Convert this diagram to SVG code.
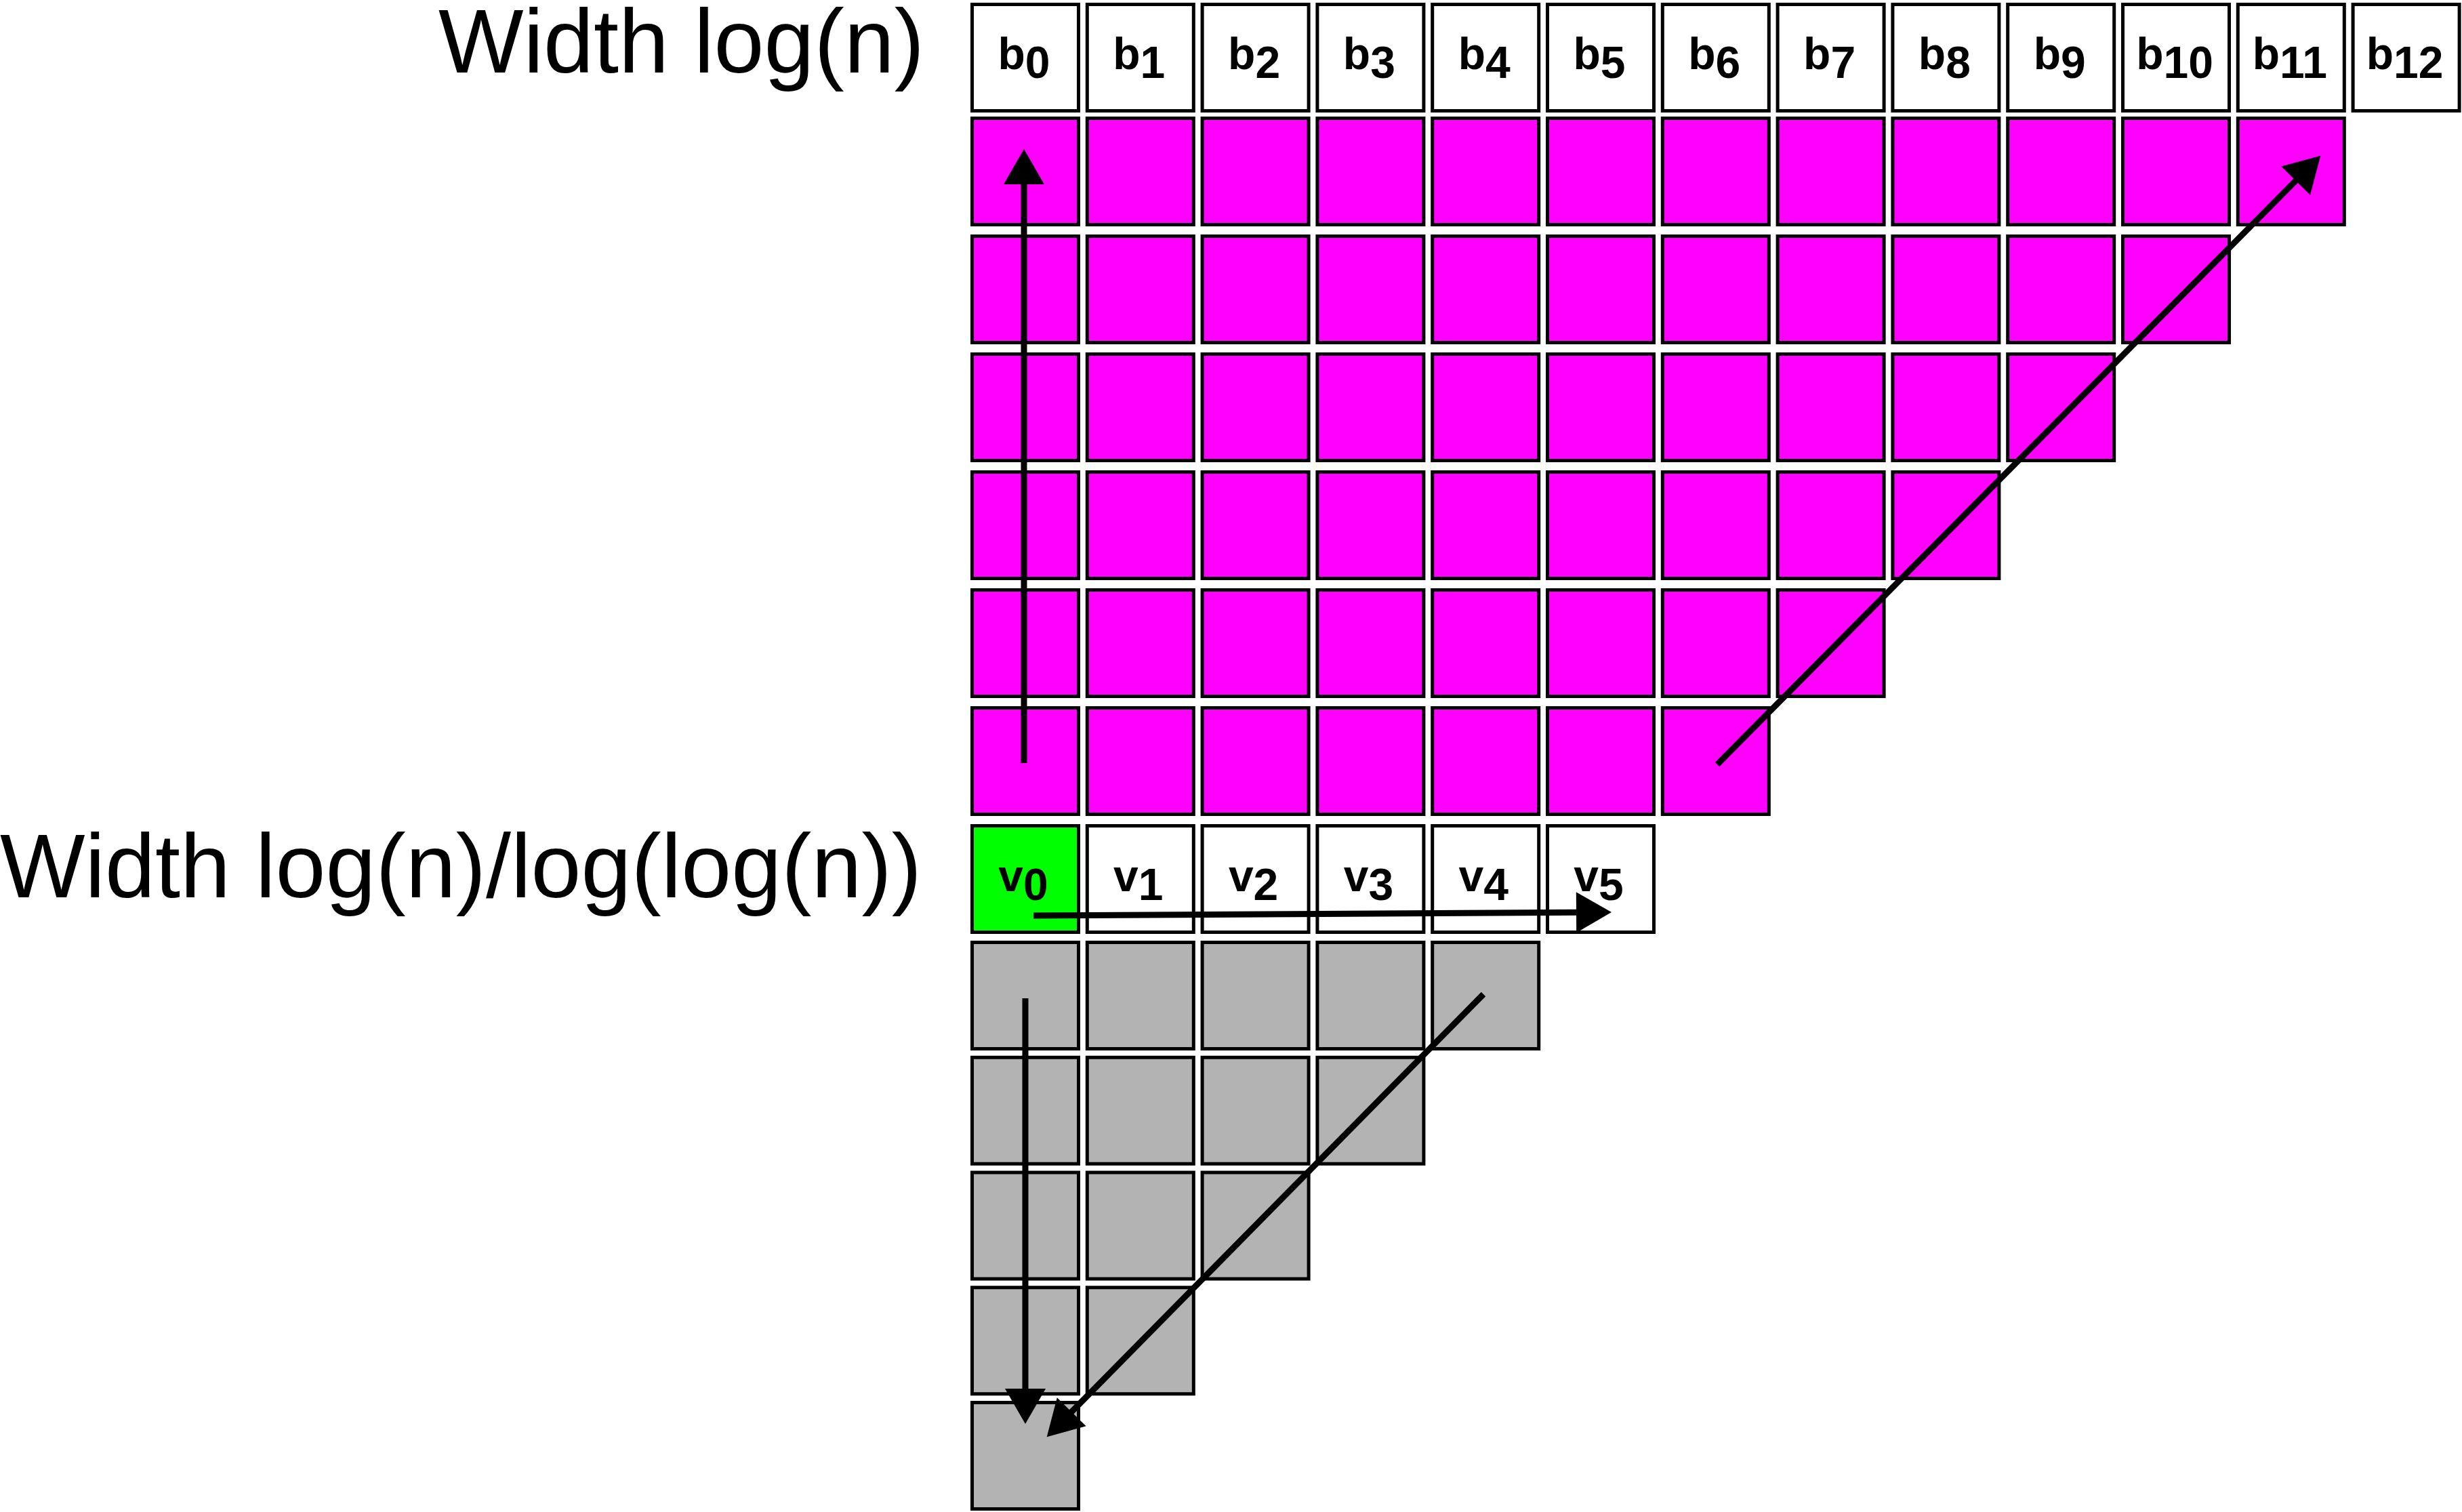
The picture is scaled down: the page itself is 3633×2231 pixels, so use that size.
<svg xmlns="http://www.w3.org/2000/svg" width="3633" height="2231" viewBox="0 0 3633 2231">
<style>
.c{stroke:#000;stroke-width:5}
.w{fill:#fff}
.m{fill:#ff00ff}
.g{fill:#00ff00}
.s{fill:#b3b3b3}
.lb{font-family:"Liberation Sans",Arial,sans-serif;font-weight:bold;font-size:66px;text-anchor:middle;fill:#000}
.big{font-family:"Liberation Sans",Arial,sans-serif;font-size:133px;fill:#000}
.ar{stroke:#000;stroke-width:9;fill:none;marker-end:url(#ah)}
</style>
<defs>
<marker id="ah" markerUnits="userSpaceOnUse" markerWidth="54" markerHeight="60" refX="1" refY="30" orient="auto" overflow="visible"><path d="M0,0 L52,30 L0,60 Z" fill="#000"/></marker>
<rect id="cell" x="2.5" y="2.5" width="157" height="157"/>
</defs>
<rect width="3633" height="2231" fill="#fff"/>
<g id="label-top"><text class="big" x="647" y="107">Width log(n)</text></g>
<g id="label-mid"><text class="big" x="0" y="1324">Width log(n)/log(log(n))</text></g>
<g id="b-row">
<g id="b0" transform="translate(1432,4)"><use href="#cell" class="c w"/><text class="lb" x="79" y="98">b<tspan dy="13">0</tspan></text></g>
<g id="b1" transform="translate(1601.8,4)"><use href="#cell" class="c w"/><text class="lb" x="79" y="98">b<tspan dy="13">1</tspan></text></g>
<g id="b2" transform="translate(1771.6,4)"><use href="#cell" class="c w"/><text class="lb" x="79" y="98">b<tspan dy="13">2</tspan></text></g>
<g id="b3" transform="translate(1941.4,4)"><use href="#cell" class="c w"/><text class="lb" x="79" y="98">b<tspan dy="13">3</tspan></text></g>
<g id="b4" transform="translate(2111.2,4)"><use href="#cell" class="c w"/><text class="lb" x="79" y="98">b<tspan dy="13">4</tspan></text></g>
<g id="b5" transform="translate(2281,4)"><use href="#cell" class="c w"/><text class="lb" x="79" y="98">b<tspan dy="13">5</tspan></text></g>
<g id="b6" transform="translate(2450.8,4)"><use href="#cell" class="c w"/><text class="lb" x="79" y="98">b<tspan dy="13">6</tspan></text></g>
<g id="b7" transform="translate(2620.6,4)"><use href="#cell" class="c w"/><text class="lb" x="79" y="98">b<tspan dy="13">7</tspan></text></g>
<g id="b8" transform="translate(2790.4,4)"><use href="#cell" class="c w"/><text class="lb" x="79" y="98">b<tspan dy="13">8</tspan></text></g>
<g id="b9" transform="translate(2960.2,4)"><use href="#cell" class="c w"/><text class="lb" x="79" y="98">b<tspan dy="13">9</tspan></text></g>
<g id="b10" transform="translate(3130,4)"><use href="#cell" class="c w"/><text class="lb" x="79" y="98">b<tspan dy="13">10</tspan></text></g>
<g id="b11" transform="translate(3299.8,4)"><use href="#cell" class="c w"/><text class="lb" x="79" y="98">b<tspan dy="13">11</tspan></text></g>
<g id="b12" transform="translate(3469.6,4)"><use href="#cell" class="c w"/><text class="lb" x="79" y="98">b<tspan dy="13">12</tspan></text></g>
</g>
<g id="magenta">
<g id="m0-0" transform="translate(1432,172)"><use href="#cell" class="c m"/></g>
<g id="m0-1" transform="translate(1601.8,172)"><use href="#cell" class="c m"/></g>
<g id="m0-2" transform="translate(1771.6,172)"><use href="#cell" class="c m"/></g>
<g id="m0-3" transform="translate(1941.4,172)"><use href="#cell" class="c m"/></g>
<g id="m0-4" transform="translate(2111.2,172)"><use href="#cell" class="c m"/></g>
<g id="m0-5" transform="translate(2281,172)"><use href="#cell" class="c m"/></g>
<g id="m0-6" transform="translate(2450.8,172)"><use href="#cell" class="c m"/></g>
<g id="m0-7" transform="translate(2620.6,172)"><use href="#cell" class="c m"/></g>
<g id="m0-8" transform="translate(2790.4,172)"><use href="#cell" class="c m"/></g>
<g id="m0-9" transform="translate(2960.2,172)"><use href="#cell" class="c m"/></g>
<g id="m0-10" transform="translate(3130,172)"><use href="#cell" class="c m"/></g>
<g id="m0-11" transform="translate(3299.8,172)"><use href="#cell" class="c m"/></g>
<g id="m1-0" transform="translate(1432,346)"><use href="#cell" class="c m"/></g>
<g id="m1-1" transform="translate(1601.8,346)"><use href="#cell" class="c m"/></g>
<g id="m1-2" transform="translate(1771.6,346)"><use href="#cell" class="c m"/></g>
<g id="m1-3" transform="translate(1941.4,346)"><use href="#cell" class="c m"/></g>
<g id="m1-4" transform="translate(2111.2,346)"><use href="#cell" class="c m"/></g>
<g id="m1-5" transform="translate(2281,346)"><use href="#cell" class="c m"/></g>
<g id="m1-6" transform="translate(2450.8,346)"><use href="#cell" class="c m"/></g>
<g id="m1-7" transform="translate(2620.6,346)"><use href="#cell" class="c m"/></g>
<g id="m1-8" transform="translate(2790.4,346)"><use href="#cell" class="c m"/></g>
<g id="m1-9" transform="translate(2960.2,346)"><use href="#cell" class="c m"/></g>
<g id="m1-10" transform="translate(3130,346)"><use href="#cell" class="c m"/></g>
<g id="m2-0" transform="translate(1432,520)"><use href="#cell" class="c m"/></g>
<g id="m2-1" transform="translate(1601.8,520)"><use href="#cell" class="c m"/></g>
<g id="m2-2" transform="translate(1771.6,520)"><use href="#cell" class="c m"/></g>
<g id="m2-3" transform="translate(1941.4,520)"><use href="#cell" class="c m"/></g>
<g id="m2-4" transform="translate(2111.2,520)"><use href="#cell" class="c m"/></g>
<g id="m2-5" transform="translate(2281,520)"><use href="#cell" class="c m"/></g>
<g id="m2-6" transform="translate(2450.8,520)"><use href="#cell" class="c m"/></g>
<g id="m2-7" transform="translate(2620.6,520)"><use href="#cell" class="c m"/></g>
<g id="m2-8" transform="translate(2790.4,520)"><use href="#cell" class="c m"/></g>
<g id="m2-9" transform="translate(2960.2,520)"><use href="#cell" class="c m"/></g>
<g id="m3-0" transform="translate(1432,694)"><use href="#cell" class="c m"/></g>
<g id="m3-1" transform="translate(1601.8,694)"><use href="#cell" class="c m"/></g>
<g id="m3-2" transform="translate(1771.6,694)"><use href="#cell" class="c m"/></g>
<g id="m3-3" transform="translate(1941.4,694)"><use href="#cell" class="c m"/></g>
<g id="m3-4" transform="translate(2111.2,694)"><use href="#cell" class="c m"/></g>
<g id="m3-5" transform="translate(2281,694)"><use href="#cell" class="c m"/></g>
<g id="m3-6" transform="translate(2450.8,694)"><use href="#cell" class="c m"/></g>
<g id="m3-7" transform="translate(2620.6,694)"><use href="#cell" class="c m"/></g>
<g id="m3-8" transform="translate(2790.4,694)"><use href="#cell" class="c m"/></g>
<g id="m4-0" transform="translate(1432,868)"><use href="#cell" class="c m"/></g>
<g id="m4-1" transform="translate(1601.8,868)"><use href="#cell" class="c m"/></g>
<g id="m4-2" transform="translate(1771.6,868)"><use href="#cell" class="c m"/></g>
<g id="m4-3" transform="translate(1941.4,868)"><use href="#cell" class="c m"/></g>
<g id="m4-4" transform="translate(2111.2,868)"><use href="#cell" class="c m"/></g>
<g id="m4-5" transform="translate(2281,868)"><use href="#cell" class="c m"/></g>
<g id="m4-6" transform="translate(2450.8,868)"><use href="#cell" class="c m"/></g>
<g id="m4-7" transform="translate(2620.6,868)"><use href="#cell" class="c m"/></g>
<g id="m5-0" transform="translate(1432,1042)"><use href="#cell" class="c m"/></g>
<g id="m5-1" transform="translate(1601.8,1042)"><use href="#cell" class="c m"/></g>
<g id="m5-2" transform="translate(1771.6,1042)"><use href="#cell" class="c m"/></g>
<g id="m5-3" transform="translate(1941.4,1042)"><use href="#cell" class="c m"/></g>
<g id="m5-4" transform="translate(2111.2,1042)"><use href="#cell" class="c m"/></g>
<g id="m5-5" transform="translate(2281,1042)"><use href="#cell" class="c m"/></g>
<g id="m5-6" transform="translate(2450.8,1042)"><use href="#cell" class="c m"/></g>
</g>
<g id="v-row">
<g id="v0" transform="translate(1432,1216)"><use href="#cell" class="c g"/><text class="lb" x="78" y="99">v<tspan dy="13">0</tspan></text></g>
<g id="v1" transform="translate(1601.8,1216)"><use href="#cell" class="c w"/><text class="lb" x="78" y="99">v<tspan dy="13">1</tspan></text></g>
<g id="v2" transform="translate(1771.6,1216)"><use href="#cell" class="c w"/><text class="lb" x="78" y="99">v<tspan dy="13">2</tspan></text></g>
<g id="v3" transform="translate(1941.4,1216)"><use href="#cell" class="c w"/><text class="lb" x="78" y="99">v<tspan dy="13">3</tspan></text></g>
<g id="v4" transform="translate(2111.2,1216)"><use href="#cell" class="c w"/><text class="lb" x="78" y="99">v<tspan dy="13">4</tspan></text></g>
<g id="v5" transform="translate(2281,1216)"><use href="#cell" class="c w"/><text class="lb" x="78" y="99">v<tspan dy="13">5</tspan></text></g>
</g>
<g id="gray">
<g id="g0-0" transform="translate(1432,1388)"><use href="#cell" class="c s"/></g>
<g id="g0-1" transform="translate(1601.8,1388)"><use href="#cell" class="c s"/></g>
<g id="g0-2" transform="translate(1771.6,1388)"><use href="#cell" class="c s"/></g>
<g id="g0-3" transform="translate(1941.4,1388)"><use href="#cell" class="c s"/></g>
<g id="g0-4" transform="translate(2111.2,1388)"><use href="#cell" class="c s"/></g>
<g id="g1-0" transform="translate(1432,1557.75)"><use href="#cell" class="c s"/></g>
<g id="g1-1" transform="translate(1601.8,1557.75)"><use href="#cell" class="c s"/></g>
<g id="g1-2" transform="translate(1771.6,1557.75)"><use href="#cell" class="c s"/></g>
<g id="g1-3" transform="translate(1941.4,1557.75)"><use href="#cell" class="c s"/></g>
<g id="g2-0" transform="translate(1432,1727.5)"><use href="#cell" class="c s"/></g>
<g id="g2-1" transform="translate(1601.8,1727.5)"><use href="#cell" class="c s"/></g>
<g id="g2-2" transform="translate(1771.6,1727.5)"><use href="#cell" class="c s"/></g>
<g id="g3-0" transform="translate(1432,1897.25)"><use href="#cell" class="c s"/></g>
<g id="g3-1" transform="translate(1601.8,1897.25)"><use href="#cell" class="c s"/></g>
<g id="g4-0" transform="translate(1432,2067)"><use href="#cell" class="c s"/></g>
</g>
<g id="connectors">
<path class="ar" d="M1511,1126 L1511,271"/>
<path class="ar" d="M2534,1128 L3388.4,265.9"/>
<path class="ar" d="M1525,1351 L2327,1346.3"/>
<path class="ar" d="M1513,1473 L1513,2050"/>
<path class="ar" d="M2189,1467 L1580.5,2084"/>
</g>
</svg>
